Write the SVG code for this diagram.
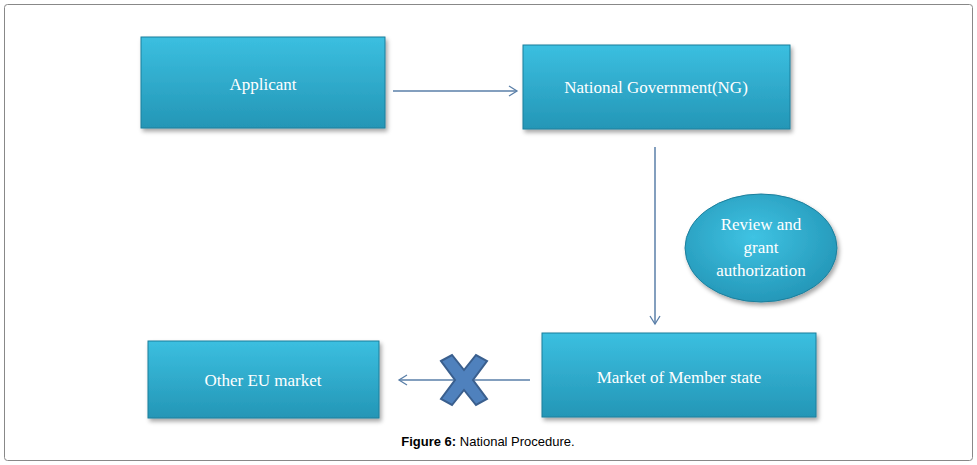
<svg xmlns="http://www.w3.org/2000/svg" width="977" height="465" viewBox="0 0 977 465">
<defs>
<linearGradient id="g" x1="0" y1="0" x2="0" y2="1"><stop offset="0" stop-color="#3bbfe0"/><stop offset="1" stop-color="#2496b6"/></linearGradient>
<radialGradient id="e" cx="0.45" cy="0.4" r="0.6"><stop offset="0" stop-color="#3fc3e3"/><stop offset="1" stop-color="#2598b9"/></radialGradient>
<filter id="s" x="-10%" y="-10%" width="125%" height="130%"><feDropShadow dx="2" dy="3" stdDeviation="2" flood-opacity="0.35"/></filter>
<marker id="a" markerWidth="12" markerHeight="12" refX="10" refY="6" orient="auto" markerUnits="userSpaceOnUse"><path d="M2,1 L10,6 L2,11" fill="none" stroke="#5a7fa8" stroke-width="1.3"/></marker>
</defs>
<style>
.b{fill:url(#g);stroke:#1d7f9c;stroke-width:1;filter:url(#s)}
.t{font-family:"Liberation Serif",serif;font-size:17px;fill:#fff;text-anchor:middle}
.c{stroke:#5a7fa8;stroke-width:1.5;fill:none;marker-end:url(#a)}
</style>
<rect x="4.5" y="4.5" width="968" height="456" fill="#fff" stroke="#888" rx="3"/>
<g id="connectors">
<line class="c" x1="393" y1="91" x2="517" y2="91"/>
<line class="c" x1="655" y1="147" x2="655" y2="324"/>
<line class="c" x1="530" y1="380" x2="399" y2="380"/>
<polygon points="441,361 452,355 464,370 476,355 487,361 473,380 487,399 476,405 464,390 452,405 441,399 455,380" fill="#4f81bd" stroke="#3a5f8e" stroke-width="2"/>
</g>
<g id="applicant"><rect class="b" x="141" y="37" width="244" height="91"/><text class="t" x="263" y="90">Applicant</text></g>
<g id="ng"><rect class="b" x="523" y="45" width="267" height="84"/><text class="t" x="656" y="93">National Government(NG)</text></g>
<g id="review"><ellipse cx="761" cy="248" rx="76" ry="54" fill="url(#e)" stroke="#1d7f9c" filter="url(#s)"/><text class="t" x="761" y="230">Review and</text><text class="t" x="761" y="253">grant</text><text class="t" x="761" y="276">authorization</text></g>
<g id="market"><rect class="b" x="542" y="333" width="274" height="84"/><text class="t" x="679" y="383">Market of Member state</text></g>
<g id="other"><rect class="b" x="148" y="341" width="231" height="77"/><text class="t" x="263" y="386">Other EU market</text></g>
<text x="488" y="446" font-family="Liberation Sans,sans-serif" font-size="13" text-anchor="middle"><tspan font-weight="bold">Figure 6:</tspan> National Procedure.</text>
</svg>
